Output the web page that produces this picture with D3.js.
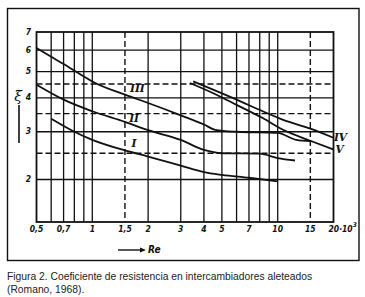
<!DOCTYPE html>
<html>
<head>
<meta charset="utf-8">
<script src="https://cdn.jsdelivr.net/npm/d3@7/dist/d3.min.js"></script>
<style>
  html, body { margin: 0; padding: 0; background: #fff; }
  svg { display: block; }
</style>
</head>
<body>
<svg id="chart" width="365" height="297"></svg>
<script>
// ---- data ----
const xDomain = [0.5, 20];
const yDomain = [1.394, 7];
const xTicks = [0.5, 0.7, 1, 1.5, 2, 3, 4, 5, 7, 10, 15, 20];
const xTickLabels = ["0,5", "0,7", "1", "1,5", "2", "3", "4", "5", "7", "10", "15", "20·10"];
const xGridSolid = [0.6, 0.7, 0.8, 0.9, 1, 2, 3, 4, 5, 6, 7, 8, 9, 10];
const xGridDashed = [1.5, 15];
const yTicks = [7, 6, 5, 4, 3, 2];
const yGridSolid = [6, 5, 4, 3, 2];
const yGridDashed = [4.5, 3.5, 2.5];

const curveIx = [0.6, 0.8, 1, 1.5, 2, 3, 4, 5, 7, 10];
const curveIy = [3.35, 3.0, 2.80, 2.56, 2.43, 2.25, 2.13, 2.08, 2.03, 1.97];
const curveIIx = [0.5, 0.7, 1, 1.5, 2, 3, 4, 5, 8, 10, 12.4];
const curveIIy = [4.47, 3.94, 3.57, 3.26, 3.04, 2.80, 2.57, 2.50, 2.49, 2.40, 2.35];
const curveIIIx = [0.5, 0.6, 0.7, 0.8, 0.9, 1, 1.5, 2, 3, 4, 4.6, 6, 10, 12.6, 15];
const curveIIIy = [6.11, 5.67, 5.33, 5.04, 4.80, 4.6, 4.11, 3.83, 3.45, 3.19, 3.05, 3.0, 2.97, 2.80, 2.77];
const curveIVx = [3.5, 6, 8.3, 10.7, 15, 20];
const curveIVy = [4.6, 3.94, 3.57, 3.32, 3.08, 2.85];
const curveVx = [3.36, 4.67, 6, 8.3, 10.7, 15, 20];
const curveVy = [4.54, 4.11, 3.77, 3.37, 3.05, 2.78, 2.58];

const curveNames = ["I", "II", "III", "IV", "V"];
const curveLabelX = [1.68, 1.68, 1.75, 21.8, 21.6];
const curveLabelY = [2.70, 3.33, 4.3, 2.84, 2.57];

const caption1 = "Figura 2. Coeficiente de resistencia en intercambiadores aleteados";
const caption2 = "(Romano, 1968).";

// ---- drawing ----
const svg = d3.select("#chart");
const L = 36.5, R = 333.5, T = 32, B = 222;
const x = d3.scaleLog().domain(xDomain).range([L, R]);
const y = d3.scaleLog().domain(yDomain).range([B, T]);

const ink = "#111";

// outer frame
svg.append("rect").attr("x", 7.5).attr("y", 8.5).attr("width", 351.5).attr("height", 252)
  .attr("fill", "none").attr("stroke", ink).attr("stroke-width", 1.4);

const g = svg.append("g");

// vertical grid
g.selectAll(".vs").data(xGridSolid).enter().append("line")
  .attr("x1", d => x(d)).attr("x2", d => x(d)).attr("y1", T).attr("y2", B)
  .attr("stroke", ink).attr("stroke-width", 1.3);
g.selectAll(".vd").data(xGridDashed).enter().append("line")
  .attr("x1", d => x(d)).attr("x2", d => x(d)).attr("y1", T).attr("y2", B)
  .attr("stroke", ink).attr("stroke-width", 1.4).attr("stroke-dasharray", "6,3");
// horizontal grid
g.selectAll(".hs").data(yGridSolid).enter().append("line")
  .attr("x1", L).attr("x2", R).attr("y1", d => y(d)).attr("y2", d => y(d))
  .attr("stroke", ink).attr("stroke-width", 1.3);
g.selectAll(".hd").data(yGridDashed).enter().append("line")
  .attr("x1", L).attr("x2", R).attr("y1", d => y(d)).attr("y2", d => y(d))
  .attr("stroke", ink).attr("stroke-width", 1.4).attr("stroke-dasharray", "6,3");

// plot border
g.append("rect").attr("x", L).attr("y", T).attr("width", R - L).attr("height", B - T)
  .attr("fill", "none").attr("stroke", ink).attr("stroke-width", 1.8);

// curves
const line = d3.line().x(d => x(d[0])).y(d => y(d[1])).curve(d3.curveMonotoneX);
const curves = [
  [curveIx, curveIy], [curveIIx, curveIIy], [curveIIIx, curveIIIy],
  [curveIVx, curveIVy], [curveVx, curveVy]
];
curves.forEach(([xs, ys]) => {
  g.append("path").datum(xs.map((v, i) => [v, ys[i]]))
    .attr("d", line).attr("fill", "none").attr("stroke", ink)
    .attr("stroke-width", 1.8).attr("stroke-linejoin", "round");
});

// curve labels
g.selectAll(".cl").data(curveNames).enter().append("text")
  .attr("x", (d, i) => x(curveLabelX[i])).attr("y", (d, i) => y(curveLabelY[i]))
  .attr("text-anchor", "middle").attr("dominant-baseline", "middle")
  .attr("font-family", "'DejaVu Serif', serif").attr("font-style", "italic")
  .attr("font-weight", "bold").attr("font-size", 10.5).attr("fill", ink)
  .text(d => d);

// x tick labels
const tickFont = "'DejaVu Sans Condensed', 'Liberation Sans Narrow', sans-serif";
const xt = g.selectAll(".xt").data(xTicks).enter().append("text")
  .attr("x", (d, i) => i === xTicks.length - 1 ? x(d) - 5 : x(d))
  .attr("y", 229)
  .attr("text-anchor", (d, i) => i === xTicks.length - 1 ? "start" : "middle")
  .attr("dominant-baseline", "middle")
  .attr("font-family", tickFont).attr("font-style", "italic").attr("font-weight", "bold")
  .attr("font-size", 8.5).attr("fill", ink)
  .text((d, i) => xTickLabels[i]);
// superscript 3 on last label
xt.filter((d, i) => i === xTicks.length - 1).append("tspan")
  .attr("dy", -4).attr("font-size", 6.5).text("3");

// y tick labels
g.selectAll(".yt").data(yTicks).enter().append("text")
  .attr("x", 28.5).attr("y", d => y(d))
  .attr("text-anchor", "middle").attr("dominant-baseline", "middle")
  .attr("font-family", tickFont).attr("font-style", "italic").attr("font-weight", "bold")
  .attr("font-size", 8.5).attr("fill", ink)
  .text(d => d);

// y axis title (xi) with bar
svg.append("text").attr("x", 18).attr("y", 97).attr("text-anchor", "middle")
  .attr("dominant-baseline", "middle")
  .attr("font-family", "'DejaVu Serif', serif").attr("font-style", "italic")
  .attr("font-size", 14).attr("fill", ink).text("ξ");
svg.append("line").attr("x1", 19).attr("x2", 19).attr("y1", 105).attr("y2", 143)
  .attr("stroke", ink).attr("stroke-width", 1.6);

// x axis title arrow + Re
svg.append("line").attr("x1", 118).attr("x2", 141).attr("y1", 250).attr("y2", 250)
  .attr("stroke", ink).attr("stroke-width", 1.4);
svg.append("path").attr("d", "M140,247.5 L146,250 L140,252.5 Z").attr("fill", ink);
svg.append("text").attr("x", 148).attr("y", 250).attr("dominant-baseline", "middle")
  .attr("font-family", tickFont).attr("font-style", "italic").attr("font-weight", "bold")
  .attr("font-size", 10).attr("fill", ink).text("Re");

// caption
svg.append("text").attr("x", 7).attr("y", 279.5)
  .attr("font-family", "'Liberation Sans', Arial, sans-serif").attr("font-size", 10.3)
  .attr("fill", "#222").text(caption1);
svg.append("text").attr("x", 7).attr("y", 292.5)
  .attr("font-family", "'Liberation Sans', Arial, sans-serif").attr("font-size", 10.3)
  .attr("fill", "#222").text(caption2);
</script>
</body>
</html>
